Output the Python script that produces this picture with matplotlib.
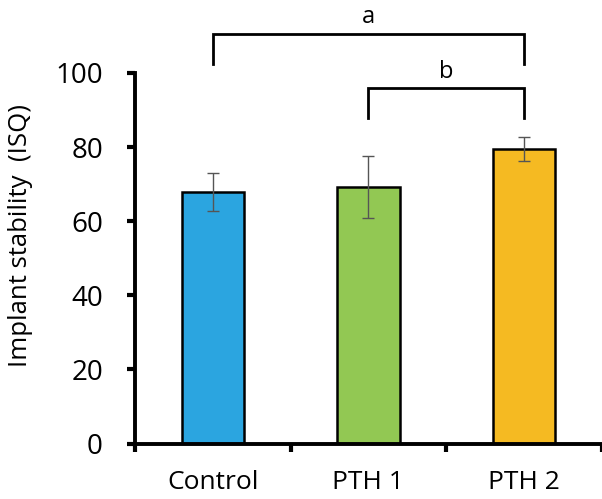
import matplotlib
matplotlib.use("Agg")
import matplotlib.pyplot as plt

categories = ["Control", "PTH 1", "PTH 2"]
means = [67.9, 69.2, 79.5]
errors = [5.1, 8.4, 3.3]
colors = ["#2BA5E0", "#92C853", "#F5BA22"]
y_ticks = [0, 20, 40, 60, 80, 100]

# significance brackets: (start index, end index, top, leg bottom, label)
brackets = [(0, 2, 110.5, 102.4, "a"), (1, 2, 95.9, 87.9, "b")]

plt.rcParams['font.family'] = ['Open Sans', 'DejaVu Sans']

fig = plt.figure(figsize=(6.02, 4.99), dpi=100)
ax = fig.add_axes([0.224, 0.111, 0.776, 0.743])

x = list(range(len(categories)))
ax.bar(x, means, width=0.4, color=colors, edgecolor="black", linewidth=1.8, zorder=2)
ax.errorbar(x, means, yerr=errors, fmt="none", ecolor="#555555", elinewidth=1.0,
            capsize=4.5, capthick=1.0, zorder=3)

ax.set_xlim(-0.5, 2.5)
ax.set_ylim(0, 100)
ax.set_yticks(y_ticks)
ax.set_yticklabels([str(v) for v in y_ticks], fontsize=20)
ax.set_xticks(x)
ax.set_xticklabels(categories, fontsize=19)
ax.set_xticks([-0.5, 0.5, 1.5, 2.5], minor=True)
ax.tick_params(axis="x", which="major", length=0, pad=19)
ax.tick_params(axis="x", which="minor", length=6, width=3, direction="out")
ax.tick_params(axis="y", length=6, width=3, direction="out", pad=17)
for s in ["top", "right"]:
    ax.spines[s].set_visible(False)
for s in ["left", "bottom"]:
    ax.spines[s].set_linewidth(2.8)
ax.set_ylabel("Implant stability  (ISQ)", fontsize=18.5)
ax.yaxis.set_label_coords(-0.218, 0.56)

for i0, i1, top, bot, lab in brackets:
    ax.plot([i0, i0, i1, i1], [bot, top, top, bot], color="black", lw=2.0,
            clip_on=False, solid_joinstyle="miter")
    ax.text((i0 + i1) / 2, top + 1.2, lab, ha="center", va="bottom", fontsize=17)

fig.savefig("out.png", dpi=100)
